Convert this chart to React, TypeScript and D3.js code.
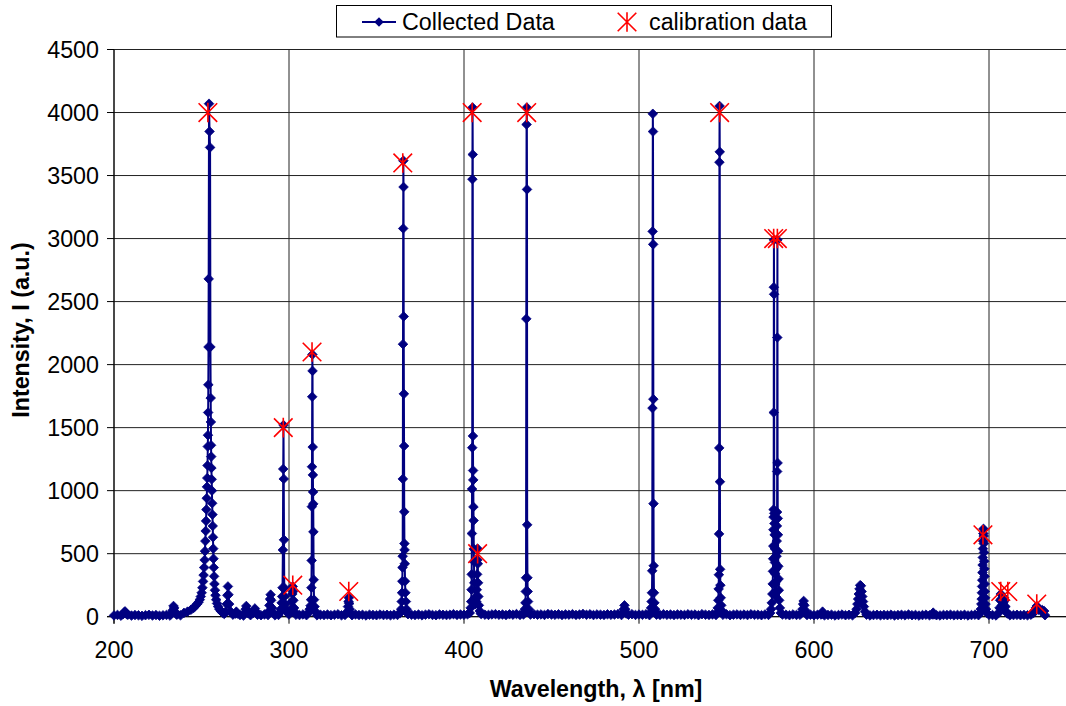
import React from 'react';
import * as d3 from 'd3';

// ---------- data ----------
const xTicks = [200, 300, 400, 500, 600, 700];
const yTicks = [0, 500, 1000, 1500, 2000, 2500, 3000, 3500, 4000, 4500];

// noise floor of the spectrum, sampled every 2 nm from 200 nm
const baselineStart = 200;
const baselineStep = 2;
const baselineIntensity = [
  10, 14, 8, 12, 16, 9, 13, 11, 7, 12, 15, 10, 13, 8, 11, 14, 9, 12, 16, 11,
  14, 18, 22, 28, 34, 40, 30, 24, 20, 16, 22, 18, 14, 12, 16, 11, 13, 9, 14, 12,
  10, 15, 12, 18, 13, 16, 11, 14, 19, 12, 17, 10, 15, 13, 18, 12, 16, 14, 11, 15,
  13, 17, 12, 15, 19, 11, 14, 16, 12, 18, 13, 15, 10, 16, 14, 12, 17, 13, 15, 11,
  16, 14, 18, 12, 20, 15, 13, 17, 11, 16, 19, 14, 12, 18, 15, 13, 16, 20, 14, 17,
  15, 19, 13, 17, 12, 22, 16, 14, 18, 20, 15, 17, 13, 19, 16, 21, 14, 18, 15, 17,
  20, 16, 18, 14, 21, 17, 15, 19, 13, 18, 16, 20, 14, 17, 22, 15, 19, 13, 18, 16,
  14, 19, 15, 17, 21, 13, 18, 16, 20, 14, 17, 15, 19, 12, 18, 16, 14, 20, 15, 17,
  13, 18, 16, 14, 19, 15, 17, 12, 20, 16, 14, 18, 13, 17, 15, 19, 12, 16, 18, 14,
  17, 13, 19, 15, 16, 12, 18, 14, 20, 15, 13, 17, 16, 12, 18, 14, 15, 19, 13, 16,
  12, 15, 18, 11, 14, 16, 10, 13, 17, 12, 15, 11, 14, 18, 12, 16, 10, 13, 15, 11,
  14, 12, 16, 10, 13, 15, 11, 17, 12, 14, 9, 13, 16, 11, 15, 12, 10, 14, 13, 16,
  11, 14, 12, 15, 10, 13, 16, 12, 14, 11, 15, 13, 10, 16, 12, 14, 11, 13, 15, 12,
  14, 11, 16, 12, 13, 15, 12,
];

// emission lines: [wavelength nm, intensity]
const line206 = [[205.2, 20], [205.8, 35], [206.3, 42], [206.8, 30], [207.4, 18]];
const line234 = [[232.8, 25], [233.5, 50], [234.0, 85], [234.4, 70], [234.9, 40], [235.6, 20]];
const line254 = [
  [240, 30], [242, 40], [244, 55], [245.5, 70], [246.5, 85], [247.5, 100], [248.3, 115],
  [249.0, 135], [249.6, 160], [250.1, 190], [250.5, 230], [250.9, 280], [251.2, 330],
  [251.5, 390], [251.8, 450], [252.0, 520], [252.2, 600], [252.4, 680], [252.6, 760],
  [252.8, 850], [253.0, 940], [253.15, 1030], [253.3, 1100], [253.45, 1200], [253.6, 1350],
  [253.7, 1440], [253.8, 1620], [253.9, 1840], [254.0, 2140], [254.1, 2680], [254.3, 4070],
  [254.6, 3850], [254.9, 3723], [255.1, 2140], [255.25, 1735], [255.35, 1545], [255.45, 1360],
  [255.55, 1270], [255.65, 1180], [255.8, 1090], [255.95, 1000], [256.1, 900], [256.25, 810],
  [256.4, 720], [256.55, 630], [256.7, 540], [256.85, 460], [257.0, 390], [257.2, 320],
  [257.4, 260], [257.7, 210], [258.0, 170], [258.4, 135], [258.9, 105], [259.5, 80],
  [260.2, 60], [261.0, 45], [262.0, 32], [263.0, 22],
];
const line265 = [[263.8, 40], [264.4, 100], [264.8, 170], [265.1, 240], [265.4, 175], [265.8, 100], [266.4, 45]];
const line270 = [[269.4, 25], [269.9, 40], [270.4, 25]];
const line276 = [[274.6, 30], [275.2, 60], [275.6, 85], [276.0, 55], [276.6, 28]];
const line280 = [[279.6, 30], [280.1, 50], [280.5, 65], [280.9, 45], [281.5, 25]];
const line289 = [[288.3, 40], [288.8, 90], [289.2, 140], [289.5, 175], [289.8, 130], [290.3, 70], [291.0, 30]];
const line297 = [
  [294.5, 30], [295.3, 60], [295.8, 110], [296.1, 160], [296.3, 230], [296.5, 530],
  [296.7, 1172], [296.85, 1520], [297.0, 1093], [297.15, 610], [297.3, 230], [297.5, 160],
  [297.8, 100], [298.3, 60], [299.0, 35],
];
const line302 = [[301.2, 60], [301.6, 120], [301.9, 180], [302.1, 240], [302.3, 200], [302.5, 130], [302.9, 70], [303.5, 35]];
const line313 = [
  [311.0, 30], [311.8, 60], [312.3, 87], [312.6, 135], [312.8, 230], [312.95, 446],
  [313.05, 873], [313.15, 1190], [313.25, 1745], [313.35, 2080], [313.45, 1950],
  [313.55, 1346], [313.65, 1125], [313.75, 990], [313.85, 895], [313.95, 673],
  [314.1, 293], [314.3, 135], [314.6, 80], [315.2, 40],
];
const line334 = [[333.3, 40], [333.7, 80], [334.0, 120], [334.2, 150], [334.4, 105], [334.7, 60], [335.2, 30]];
const line365 = [
  [363.6, 30], [364.1, 60], [364.4, 120], [364.6, 190], [364.75, 281], [364.85, 390],
  [364.95, 480], [365.05, 1093], [365.15, 2162], [365.25, 3080], [365.35, 3618],
  [365.45, 3409], [365.55, 2382], [365.65, 1768], [365.75, 1354], [365.85, 832],
  [365.95, 580], [366.05, 530], [366.15, 420], [366.3, 281], [366.5, 190], [366.8, 120],
  [367.2, 60], [367.8, 30],
];
const line405 = [
  [403.3, 30], [403.8, 70], [404.1, 120], [404.3, 214], [404.4, 336], [404.5, 660],
  [404.6, 1013], [404.7, 1341], [404.8, 3471], [404.9, 4040], [405.0, 3667], [405.1, 1434],
  [405.2, 1160], [405.3, 1085], [405.4, 871], [405.5, 763], [405.6, 538], [405.7, 438],
  [405.85, 269], [406.1, 150], [406.5, 100], [407.0, 120], [407.3, 214], [407.5, 336],
  [407.65, 450], [407.75, 540], [407.9, 420], [408.05, 269], [408.2, 160], [408.5, 90],
  [409.0, 45], [409.6, 25],
];
const line436 = [
  [434.3, 30], [434.8, 60], [435.1, 110], [435.3, 200], [435.45, 309], [435.6, 2363],
  [435.75, 3905], [435.9, 4040], [436.0, 3390], [436.1, 729], [436.25, 309], [436.4, 200],
  [436.6, 120], [437.0, 60], [437.6, 30],
];
const line492 = [[490.8, 30], [491.3, 60], [491.7, 90], [492.1, 60], [492.7, 25]];
const line508 = [
  [506.4, 30], [506.9, 70], [507.2, 120], [507.4, 190], [507.55, 364], [507.7, 1655],
  [507.8, 3057], [507.9, 3990], [508.0, 3849], [508.1, 2954], [508.2, 1726], [508.3, 897],
  [508.4, 404], [508.55, 190], [508.8, 110], [509.2, 60], [509.8, 30],
];
const line546 = [
  [544.5, 30], [545.0, 70], [545.3, 130], [545.5, 220], [545.65, 333], [545.75, 657],
  [545.85, 1339], [545.95, 3606], [546.05, 4052], [546.15, 3688], [546.25, 1071],
  [546.35, 376], [546.5, 250], [546.7, 150], [547.0, 90], [547.5, 45],
];
const line578 = [
  [575.0, 30], [575.5, 60], [575.9, 110], [576.2, 180], [576.4, 260], [576.55, 360],
  [576.65, 460], [576.75, 560], [576.82, 690], [576.88, 790], [576.93, 850], [577.0, 1620],
  [577.05, 2614], [577.1, 2990], [577.2, 2558], [577.3, 820], [577.4, 740], [577.5, 650],
  [577.6, 540], [577.7, 430], [577.8, 340], [577.9, 260], [578.0, 200], [578.1, 160],
  [578.25, 200], [578.4, 280], [578.5, 380], [578.6, 480], [578.7, 600], [578.8, 720],
  [578.9, 830], [578.95, 1152], [579.0, 2215], [579.1, 2990], [579.2, 1220], [579.3, 780],
  [579.4, 650], [579.5, 520], [579.6, 400], [579.75, 300], [579.9, 210], [580.1, 130],
  [580.5, 70], [581.0, 30],
];
const line594 = [[592.8, 30], [593.4, 60], [593.8, 100], [594.1, 125], [594.5, 90], [595.0, 50], [595.6, 25]];
const line605 = [[604.4, 20], [604.9, 40], [605.4, 22]];
const line627 = [
  [623.5, 30], [624.3, 60], [624.8, 100], [625.2, 140], [625.6, 180], [626.0, 220],
  [626.4, 250], [626.8, 245], [627.2, 200], [627.6, 160], [628.0, 120], [628.5, 80], [629.2, 40],
];
const line668 = [[667.6, 18], [668.1, 32], [668.6, 18]];
const line697 = [
  [694.8, 30], [695.3, 60], [695.6, 100], [695.8, 140], [695.95, 190], [696.05, 240],
  [696.15, 290], [696.25, 350], [696.35, 410], [696.45, 470], [696.55, 540], [696.65, 600],
  [696.75, 660], [696.85, 697], [696.95, 640], [697.05, 580], [697.15, 510], [697.25, 440],
  [697.35, 380], [697.45, 320], [697.55, 260], [697.65, 200], [697.8, 150], [698.0, 100],
  [698.3, 60], [698.8, 30],
];
const line708 = [
  [705.5, 30], [706.0, 70], [706.4, 130], [706.7, 180], [707.0, 140], [707.4, 90],
  [707.8, 80], [708.2, 110], [708.6, 150], [709.0, 130], [709.4, 80], [709.9, 40], [710.5, 25],
];
const line727 = [
  [725.5, 30], [726.3, 50], [726.8, 70], [727.3, 85], [727.8, 70], [728.5, 55],
  [729.5, 50], [730.5, 52], [731.5, 45],
];

const emissionLines = [
  line206, line234, line254, line265, line270, line276, line280, line289, line297, line302,
  line313, line334, line365, line405, line436, line492, line508, line546, line578, line594,
  line605, line627, line668, line697, line708, line727,
];

// calibration (reference) lines
const calWavelength = [253.65, 296.73, 302.15, 313.16, 334.15, 365.02, 404.66, 407.78, 435.83, 546.07, 576.96, 579.07, 696.54, 706.72, 710.75, 727.29];
const calIntensity = [4000, 1500, 250, 2100, 200, 3600, 4000, 500, 4000, 4000, 3000, 3000, 650, 200, 200, 100];

// ---------- layout ----------
const W = 1066;
const H = 706;
const FONT = "Arial, 'Liberation Sans', Helvetica, sans-serif";
const FS = 23.3;
const NAVY = '#000080';

const x = d3.scaleLinear().domain([200, 800]).range([114, 1164]);
const y = d3.scaleLinear().domain([0, 4500]).range([616.7, 49.5]);

function buildSeries(): [number, number][] {
  const pts: [number, number][] = [];
  baselineIntensity.forEach((v, i) => {
    const w = baselineStart + i * baselineStep;
    const covered = emissionLines.some((l) => w >= l[0][0] && w <= l[l.length - 1][0]);
    if (!covered) pts.push([w, v]);
  });
  emissionLines.forEach((l) => l.forEach((p) => pts.push([p[0], p[1]])));
  pts.sort((a, b) => a[0] - b[0]);
  return pts;
}

const R = 4.8;
const diamond = `M0,${-R}L${R},0L0,${R}L${-R},0Z`;
const S = 9.3;
const star = `M${-S},${-S}L${S},${S}M${-S},${S}L${S},${-S}M0,${-S - 0.5}L0,${S + 0.5}`;

export default function App() {
  const series = buildSeries();
  const linePath = d3
    .line<[number, number]>()
    .x((d) => x(d[0]))
    .y((d) => y(d[1]))(series) as string;

  return (
    <svg
      width={W}
      height={H}
      viewBox={`0 0 ${W} ${H}`}
      style={{ position: 'absolute', left: 0, top: 0, background: '#fff' }}
      fontFamily={FONT}
    >
      <rect x={0} y={0} width={W} height={H} fill="#fff" />
      {/* horizontal gridlines */}
      {yTicks.map((t) => (
        <line key={'hy' + t} x1={x(200)} x2={x(800)} y1={y(t)} y2={y(t)} stroke="#222" strokeWidth={1} />
      ))}
      {/* vertical gridlines */}
      {xTicks.map((t) => (
        <line key={'vx' + t} x1={x(t)} x2={x(t)} y1={y(4500)} y2={y(0)} stroke="#222" strokeWidth={1} />
      ))}
      {/* axes */}
      <line x1={x(200)} x2={x(200)} y1={y(4500)} y2={y(0) + 7} stroke="#000" strokeWidth={1} />
      <line x1={x(200) - 7} x2={x(800)} y1={y(0)} y2={y(0)} stroke="#000" strokeWidth={1} />
      {yTicks.map((t) => (
        <g key={'yt' + t}>
          <line x1={x(200) - 7} x2={x(200)} y1={y(t)} y2={y(t)} stroke="#000" />
          <text x={99} y={y(t)} dy="0.35em" textAnchor="end" fontSize={FS} fill="#000">
            {t}
          </text>
        </g>
      ))}
      {xTicks.map((t) => (
        <g key={'xt' + t}>
          <line x1={x(t)} x2={x(t)} y1={y(0)} y2={y(0) + 7} stroke="#000" />
          <text x={x(t)} y={658} textAnchor="middle" fontSize={FS} fill="#000">
            {t}
          </text>
        </g>
      ))}
      {/* axis titles */}
      <text x={596} y={697} textAnchor="middle" fontSize={FS} fontWeight="bold" fill="#000">
        Wavelength, λ [nm]
      </text>
      <text
        transform={`translate(29,330) rotate(-90)`}
        textAnchor="middle"
        fontSize={FS}
        fontWeight="bold"
        fill="#000"
      >
        Intensity, I (a.u.)
      </text>

      {/* collected data */}
      <path d={linePath} fill="none" stroke={NAVY} strokeWidth={2} strokeLinejoin="round" />
      {series.map((d, i) => (
        <path key={'m' + i} d={diamond} transform={`translate(${x(d[0])},${y(d[1])})`} fill={NAVY} stroke={NAVY} strokeWidth={0.8} />
      ))}
      {/* calibration data */}
      {calWavelength.map((w, i) => (
        <path key={'c' + i} d={star} transform={`translate(${x(w)},${y(calIntensity[i])})`} fill="none" stroke="#ff0000" strokeWidth={1.6} />
      ))}

      {/* legend */}
      <rect x={336.5} y={5.5} width={495} height={31.5} fill="#fff" stroke="#000" strokeWidth={1} />
      <line x1={362} x2={396} y1={22} y2={22} stroke={NAVY} strokeWidth={2} />
      <path d={diamond} transform="translate(379,22)" fill={NAVY} />
      <text x={402} y={22} dy="0.35em" fontSize={FS} fill="#000">
        Collected Data
      </text>
      <path d={star} transform="translate(627,22)" fill="none" stroke="#ff0000" strokeWidth={1.6} />
      <text x={649} y={22} dy="0.35em" fontSize={FS} fill="#000">
        calibration data
      </text>
    </svg>
  );
}
